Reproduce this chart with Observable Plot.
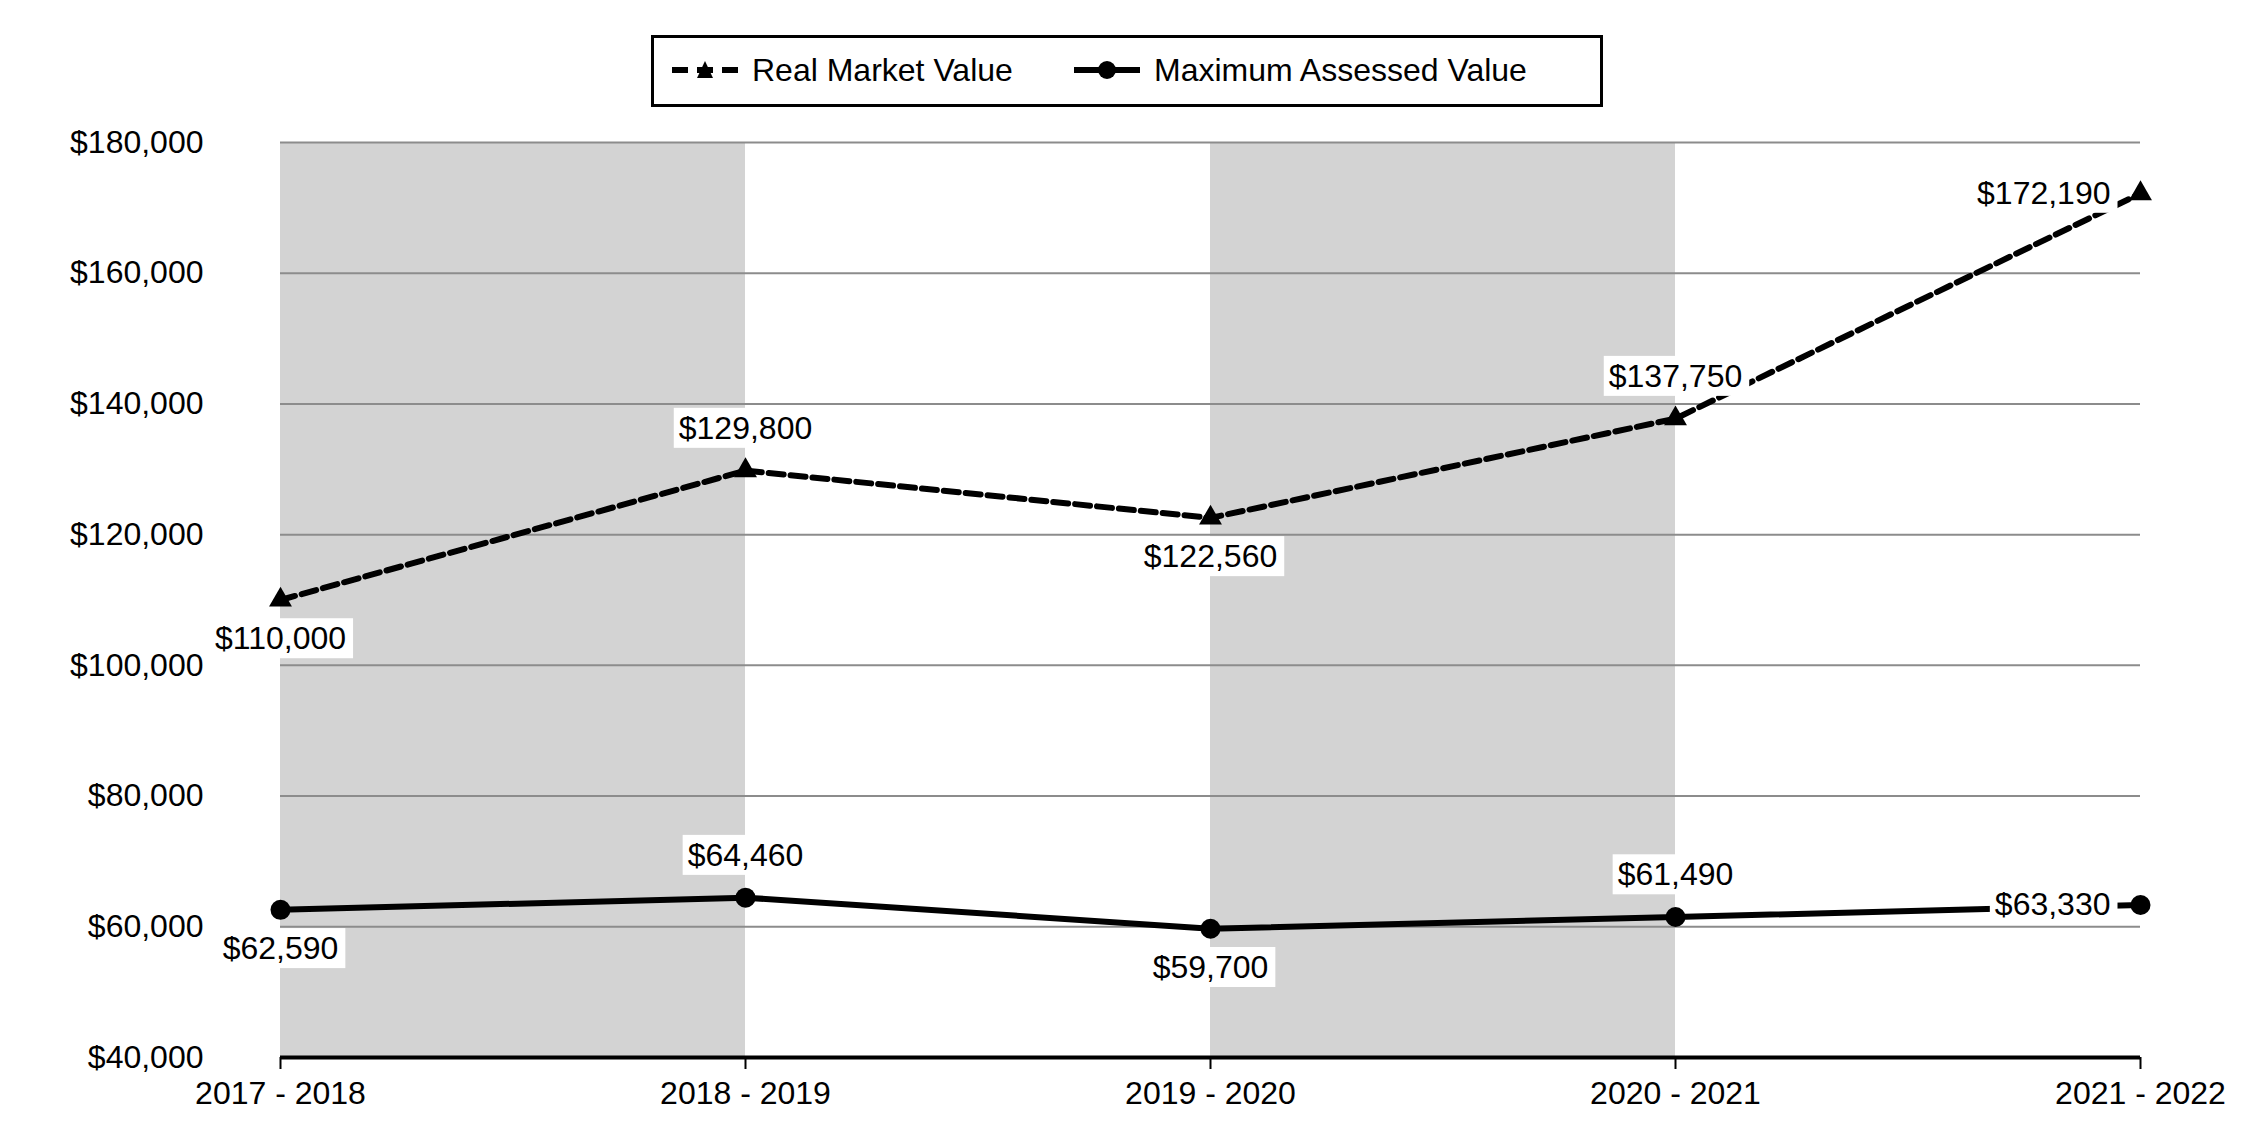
<!DOCTYPE html>
<html>
<head>
<meta charset="utf-8">
<script src="https://cdn.jsdelivr.net/npm/d3@7"></script>
<script src="https://cdn.jsdelivr.net/npm/@observablehq/plot@0.6"></script>
<style>
  html, body { margin: 0; padding: 0; background: white; }
  body { width: 2250px; height: 1140px; font-family: "Liberation Sans", Arial, sans-serif; overflow: hidden; }
  #wrap { padding-top: 35px; }
  #legend {
    box-sizing: border-box; width: 952px; height: 72px; margin: 0 0 13px 651px;
    border: 3px solid black; position: relative; font-size: 32px; color: black;
  }
  #legend .item { position: absolute; top: 0; height: 64px; display: flex; align-items: center; }
  #legend svg { margin-right: 14px; }
  #chart svg { display: block; }
</style>
</head>
<body>
<div id="wrap">
  <div id="legend"></div>
  <div id="chart"></div>
</div>
<script>
const years = ["2017 - 2018", "2018 - 2019", "2019 - 2020", "2020 - 2021", "2021 - 2022"];
const realMarket = [110000, 129800, 122560, 137750, 172190];
const maxAssessed = [62590, 64460, 59700, 61490, 63330];
const yTicks = [40000, 60000, 80000, 100000, 120000, 140000, 160000, 180000];
const seriesNames = ["Real Market Value", "Maximum Assessed Value"];
const shadedStarts = [0, 2];

const money = d => "$" + d3.format(",")(d);
const font = "'Liberation Sans', Arial, sans-serif";

const rmv = years.map((y, i) => ({i, year: y, value: realMarket[i], series: seriesNames[0]}));
const mav = years.map((y, i) => ({i, year: y, value: maxAssessed[i], series: seriesNames[1]}));
const all = rmv.concat(mav);
const last = years.length - 1;
const above = all.filter(d => d.i !== last && d.i % 2 === 1);
const below = all.filter(d => d.i !== last && d.i % 2 === 0);
const left = all.filter(d => d.i === last);

// Legend
const legend = document.getElementById("legend");
function swatch(kind) {
  const ns = "http://www.w3.org/2000/svg";
  const s = document.createElementNS(ns, "svg");
  s.setAttribute("width", 66); s.setAttribute("height", 24);
  const l = document.createElementNS(ns, "line");
  l.setAttribute("x1", 0); l.setAttribute("x2", 66); l.setAttribute("y1", 12); l.setAttribute("y2", 12);
  l.setAttribute("stroke", "black"); l.setAttribute("stroke-width", 6);
  if (kind === "dash") l.setAttribute("stroke-dasharray", "16,9");
  s.appendChild(l);
  if (kind === "dash") {
    const p = document.createElementNS(ns, "path");
    p.setAttribute("d", "M33,3 L41,20 L25,20 Z"); p.setAttribute("fill", "black");
    s.appendChild(p);
  } else {
    const c = document.createElementNS(ns, "circle");
    c.setAttribute("cx", 33); c.setAttribute("cy", 12); c.setAttribute("r", 9); c.setAttribute("fill", "black");
    s.appendChild(c);
  }
  return s;
}
[[18, "dash"], [420, "solid"]].forEach(([x, kind], k) => {
  const it = document.createElement("div");
  it.className = "item"; it.style.left = x + "px";
  it.appendChild(swatch(kind));
  const t = document.createElement("span"); t.textContent = seriesNames[k];
  it.appendChild(t);
  legend.appendChild(it);
});

const chart = Plot.plot({
  width: 2250,
  height: 1020,
  marginTop: 22,
  marginBottom: 83,
  marginLeft: 280,
  marginRight: 110,
  style: {fontFamily: font, fontSize: "32px", color: "black", background: "white"},
  x: {type: "linear", domain: [0, last]},
  y: {domain: [yTicks[0], yTicks[yTicks.length - 1]]},
  marks: [
    Plot.rect(shadedStarts, {x1: d => d, x2: d => d + 1, y1: yTicks[0], y2: yTicks[yTicks.length - 1], fill: "#d3d3d3"}),
    Plot.gridY(yTicks.slice(1), {stroke: "#8c8c8c", strokeOpacity: 1, strokeWidth: 2}),
    Plot.ruleY([yTicks[0]], {stroke: "black", strokeWidth: 4}),
    Plot.axisY(yTicks, {tickFormat: money, tickSize: 0, tickPadding: 77, fontSize: 32, label: null}),
    Plot.axisX(d3.range(years.length), {tickFormat: i => years[i], tickSize: 12, tickPadding: 12, fontSize: 32, label: null, strokeWidth: 2}),
    Plot.line(rmv, {x: "i", y: "value", stroke: "black", strokeWidth: 6, strokeDasharray: "15,7"}),
    Plot.line(mav, {x: "i", y: "value", stroke: "black", strokeWidth: 6}),
    Plot.dot(rmv, {x: "i", y: "value", symbol: "triangle", r: 8.5, fill: "black"}),
    Plot.dot(mav, {x: "i", y: "value", r: 10, fill: "black"}),
    Plot.text(above, {x: "i", y: "value", text: d => money(d.value), dy: -42, fontSize: 32, fill: "black", className: "vlabel"}),
    Plot.text(below, {x: "i", y: "value", text: d => money(d.value), dy: 39, fontSize: 32, fill: "black", className: "vlabel"}),
    Plot.text(left, {x: "i", y: "value", text: d => money(d.value), dx: -30, textAnchor: "end", fontSize: 32, fill: "black", className: "vlabel"})
  ]
});
document.getElementById("chart").appendChild(chart);

// white backgrounds behind value labels
chart.querySelectorAll("g.vlabel text").forEach(t => {
  const b = t.getBBox();
  const r = document.createElementNS("http://www.w3.org/2000/svg", "rect");
  r.setAttribute("x", b.x - 5); r.setAttribute("y", b.y - 2);
  r.setAttribute("width", b.width + 12); r.setAttribute("height", b.height + 4);
  r.setAttribute("fill", "white");
  if (t.getAttribute("transform")) r.setAttribute("transform", t.getAttribute("transform"));
  t.parentNode.insertBefore(r, t);
});
</script>
</body>
</html>
